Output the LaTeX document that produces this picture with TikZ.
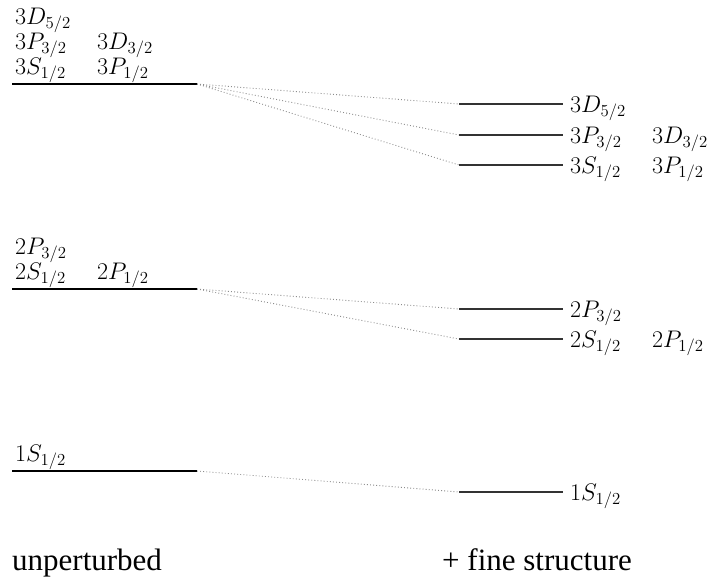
\RequirePackage{fix-cm}
\documentclass[tikz,border=0pt]{standalone}
\usepackage{fontspec}
\newfontfamily\capfont{Liberation Serif}
\tikzset{
  level/.style={line width=1.3pt, black},
  rlevel/.style={line width=1.3pt, black!80},
  link/.style={line width=0.9pt, black!45, dash pattern=on 0.9pt off 2.2pt},
  lbl/.style={anchor=base west, inner sep=0pt, font=\fontsize{24}{28}\selectfont},
  captext/.style={anchor=base west, inner sep=0pt, font=\capfont\fontsize{31}{36}\selectfont}
}
\begin{document}
\begin{tikzpicture}[x=1pt,y=-1pt]
\useasboundingbox (0,0) rectangle (708,579);
% left levels
\coordinate (L3a) at (12,84);  \coordinate (L3b) at (197,84);
\coordinate (L2a) at (12,289); \coordinate (L2b) at (197,289);
\coordinate (L1a) at (12,471); \coordinate (L1b) at (197,471);
\draw[level] (L3a) -- (L3b);
\draw[level] (L2a) -- (L2b);
\draw[level] (L1a) -- (L1b);
% right levels
\coordinate (R3da) at (459,104); \coordinate (R3db) at (563,104);
\coordinate (R3pa) at (459,135); \coordinate (R3pb) at (563,135);
\coordinate (R3sa) at (459,165); \coordinate (R3sb) at (563,165);
\coordinate (R2pa) at (459,309); \coordinate (R2pb) at (563,309);
\coordinate (R2sa) at (459,339); \coordinate (R2sb) at (563,339);
\coordinate (R1a) at (459,492);  \coordinate (R1b) at (563,492);
\draw[rlevel] (R3da) -- (R3db);
\draw[rlevel] (R3pa) -- (R3pb);
\draw[rlevel] (R3sa) -- (R3sb);
\draw[rlevel] (R2pa) -- (R2pb);
\draw[rlevel] (R2sa) -- (R2sb);
\draw[rlevel] (R1a) -- (R1b);
% dotted connectors
\draw[link] (L3b) -- (R3da);
\draw[link] (L3b) -- (R3pa);
\draw[link] (L3b) -- (R3sa);
\draw[link] (L2b) -- (R2pa);
\draw[link] (L2b) -- (R2sa);
\draw[link] (L1b) -- (R1a);
% left labels
\node[lbl] (l3d52) at (15,24) {$3D_{5/2}$};
\node[lbl] (l3p32) at (15,49) {$3P_{3/2}$};
\node[lbl] (l3d32) at (97,49) {$3D_{3/2}$};
\node[lbl] (l3s12) at (15,74) {$3S_{1/2}$};
\node[lbl] (l3p12) at (97,74) {$3P_{1/2}$};
\node[lbl] (l2p32) at (15,254) {$2P_{3/2}$};
\node[lbl] (l2s12) at (15,279) {$2S_{1/2}$};
\node[lbl] (l2p12) at (97,279) {$2P_{1/2}$};
\node[lbl] (l1s12) at (15,461) {$1S_{1/2}$};
% right labels
\node[lbl] (r3d52) at (570,112) {$3D_{5/2}$};
\node[lbl] (r3p32) at (570,143) {$3P_{3/2}$};
\node[lbl] (r3d32) at (652,143) {$3D_{3/2}$};
\node[lbl] (r3s12) at (570,173) {$3S_{1/2}$};
\node[lbl] (r3p12) at (652,173) {$3P_{1/2}$};
\node[lbl] (r2p32) at (570,317) {$2P_{3/2}$};
\node[lbl] (r2s12) at (570,347) {$2S_{1/2}$};
\node[lbl] (r2p12) at (652,347) {$2P_{1/2}$};
\node[lbl] (r1s12) at (570,500) {$1S_{1/2}$};
% captions
\node[captext] (unp) at (12,570) {unperturbed};
\node[captext] (fine) at (442,570) {+ fine structure};
\end{tikzpicture}
\end{document}
